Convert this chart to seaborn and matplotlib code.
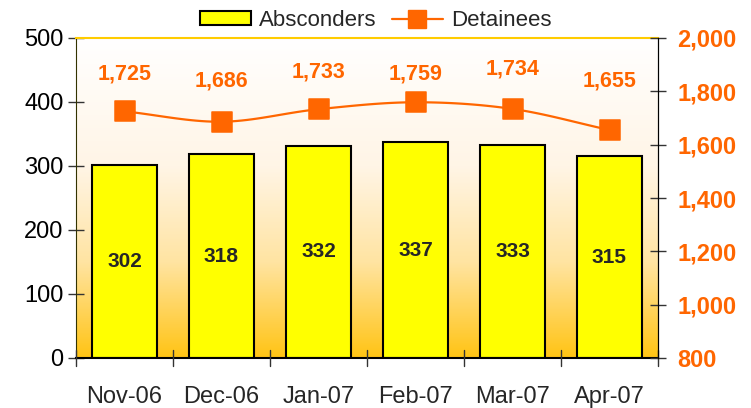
import numpy as np
import pandas as pd
import seaborn as sns
import matplotlib.pyplot as plt
from matplotlib.colors import LinearSegmentedColormap
from matplotlib.lines import Line2D
from matplotlib.patches import Patch
from matplotlib.ticker import FuncFormatter

months = ['Nov-06', 'Dec-06', 'Jan-07', 'Feb-07', 'Mar-07', 'Apr-07']
absconders = [302, 318, 332, 337, 333, 315]
detainees = [1725, 1686, 1733, 1759, 1734, 1655]

# vertical gap (points) between each marker and its value label, as placed in the original
label_gap = [27, 29, 27, 20, 29, 35]

ORANGE = '#FF6600'
sns.set_style('white')
plt.rcParams['font.family'] = ['Liberation Sans', 'DejaVu Sans']

df = pd.DataFrame({'Month': months, 'Absconders': absconders, 'Detainees': detainees})
df['x'] = np.arange(len(months))

fig = plt.figure(figsize=(7.51, 4.08), dpi=100)
ax = fig.add_axes([76 / 751, 50 / 408, 582 / 751, 320 / 408])

# gradient background, white at top fading to orange at the bottom
cmap = LinearSegmentedColormap.from_list('bg', [(0, '#FFC414'), (0.3, '#FFE4A2'), (0.6, '#FFF5E6'), (1, '#FFFFFF')])
grad = np.linspace(0, 1, 256).reshape(-1, 1)
ax.imshow(grad, cmap=cmap, aspect='auto', extent=[-0.5, 5.5, 0, 500], origin='lower', zorder=0)

sns.barplot(data=df, x='Month', y='Absconders', color='#FFFF00', edgecolor='black',
            linewidth=1.5, width=0.68, saturation=1, ax=ax, zorder=2)
for i, v in enumerate(absconders):
    ax.text(i, v / 2, str(v), ha='center', va='center', fontsize=15, fontweight='bold', zorder=3)

ax.set_xlim(-0.5, 5.5)
ax.set_ylim(0, 500)
ax.set_yticks(range(0, 501, 100))
ax.set_xlabel('')
ax.set_ylabel('')
ax.tick_params(axis='y', labelsize=17, direction='inout', length=12, width=1, colors='#333333',
               labelcolor='black', pad=3)
ax.tick_params(axis='x', labelsize=17, length=0, pad=20)
for b in np.arange(-0.5, 5.6, 1):
    ax.plot([b, b], [-12, 12], color='#333333', lw=1, clip_on=False, zorder=4)
ax.spines['top'].set_color('#FFCC00')
ax.spines['top'].set_linewidth(1.5)
ax.spines['left'].set_color('#333300')
ax.spines['bottom'].set_color('black')
ax.spines['bottom'].set_linewidth(1.5)
ax.spines['right'].set_color('black')

ax2 = ax.twinx()
ax2.set_ylim(800, 2000)
ax2.set_yticks(range(800, 2001, 200))
ax2.yaxis.set_major_formatter(FuncFormatter(lambda v, p: f'{int(v):,}'))
ax2.tick_params(axis='y', labelsize=17, direction='inout', length=12, width=1, colors='#333333',
                labelcolor=ORANGE, pad=8)
for t in ax2.get_yticklabels():
    t.set_fontweight('bold')
for s in ['top', 'left', 'bottom']:
    ax2.spines[s].set_visible(False)
ax2.spines['right'].set_color('black')

# smoothed line through the detainee points (Catmull-Rom)
xs = df['x'].values.astype(float)
ys = np.array(detainees, dtype=float)
px = np.concatenate([[2 * xs[0] - xs[1]], xs, [2 * xs[-1] - xs[-2]]])
py = np.concatenate([[2 * ys[0] - ys[1]], ys, [2 * ys[-1] - ys[-2]]])
cx, cy = [], []
for i in range(1, len(px) - 2):
    t = np.linspace(0, 1, 20)
    for arr, out in ((px, cx), (py, cy)):
        p0, p1, p2, p3 = arr[i - 1], arr[i], arr[i + 1], arr[i + 2]
        out.extend(0.5 * ((2 * p1) + (-p0 + p2) * t + (2 * p0 - 5 * p1 + 4 * p2 - p3) * t ** 2
                          + (-p0 + 3 * p1 - 3 * p2 + p3) * t ** 3))
ax2.plot(cx, cy, color=ORANGE, lw=1.6, zorder=3)
sns.scatterplot(data=df, x='x', y='Detainees', marker='s', s=190, color=ORANGE,
                edgecolor=ORANGE, ax=ax2, zorder=4, legend=False)
for i, v in enumerate(detainees):
    ax2.annotate(f'{v:,}', (i, v), xytext=(0, label_gap[i]), textcoords='offset points',
                 ha='center', va='center', fontsize=15.5, fontweight='bold', color=ORANGE)
ax2.set_xlabel('')
ax2.set_ylabel('')
ax2.set_xlim(-0.5, 5.5)

handles = [Patch(facecolor='#FFFF00', edgecolor='black', linewidth=1.5, label='Absconders'),
           Line2D([0], [0], color=ORANGE, lw=1.6, marker='s', markersize=13, label='Detainees')]
fig.legend(handles=handles, loc='upper center', bbox_to_anchor=(0.5, 1.025), ncol=2, frameon=False,
           fontsize=16, handlelength=2.3, handleheight=0.55, columnspacing=0.7, handletextpad=0.35)

fig.savefig('out.png', dpi=100)
